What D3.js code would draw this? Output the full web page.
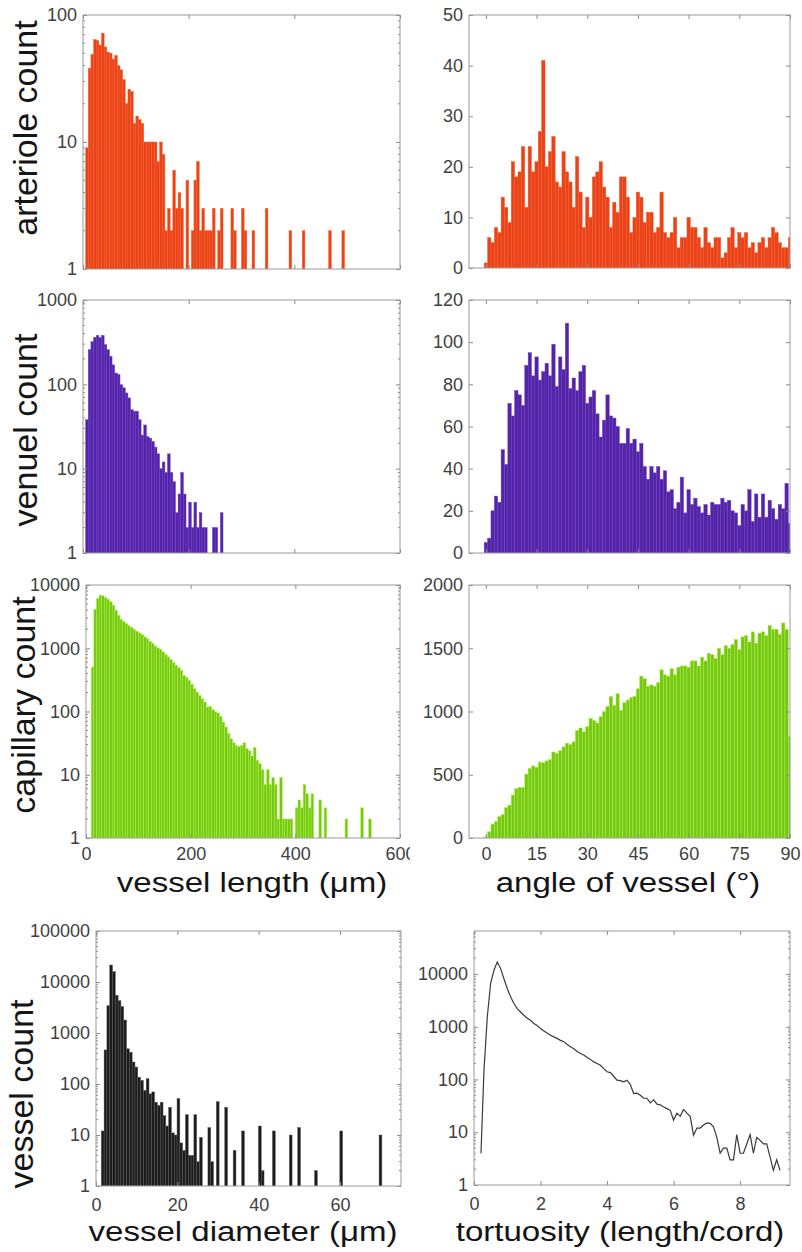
<!DOCTYPE html>
<html><head><meta charset="utf-8">
<script src="https://cdnjs.cloudflare.com/ajax/libs/d3/7.8.5/d3.min.js"></script>
<style>
body{margin:0;background:#fff;}
text{font-family:"Liberation Sans", Arial, Helvetica, sans-serif;}
</style></head><body>
<svg id="chart" width="802" height="1252"></svg>
<script>
// ---------------- DATA ----------------
// vessel length histograms: 5 µm bins starting at 0 µm
const lengthBinWidth = 5;
const arterioleLengthCounts = [0,9,38,49,64,63,58,72,56,51, 50,45,48,40,37,31,20,26,25,14, 16,15,14,10,10,10,10,10,7,10,
  8,2,3,2,6,3,4,3,0,5, 0,2,5,7,2,3,2,2,2,3, 0,2,3,0,0,0,3,2,0,0, 3,2,0,0,2,0,0,0,0,3,
  0,0,0,0,0,0,0,0,2,0, 0,0,0,2,0,0,0,0,0,0, 0,0,0,2,0,0,0,0,2];
const venuelLengthCounts = [0,38,257,320,360,380,360,380,295,257, 215,170,136,131,99,91,79,69,50,48,
  48,38,25,33,24,23,21,18,15,10, 12,9,15,9,7,3,5,9,5,2, 4,2,4,2,3,2,2,0,0,2, 2,0,3];
const capillaryLengthCounts = [0,0,505,4100,6150,6900,6750,6300,5980,5430, 4800,4000,3330,2850,2620,2450,2260,2130,1980,1860,
  1750,1650,1510,1410,1290,1190,1090,1010,955,875, 800,730,665,593,540,494,449,372,343,310,
  270,230,203,180,159,141,118,120,107,100, 95,84,68,57,45,37,32,29,28,29,
  32,26,24,20,27,17,15,12,7,12, 7,9,7,2,9,2,2,2,2,0,
  3,4,3,7,5,3,5,0,0,4, 0,3,0,0,0,0,0,0,0,2, 0,0,0,0,0,3,0,0,2];
// vessel angle histograms: 1° bins centred on 0..90°
const angleBinWidth = 1;
const arterioleAngleCounts = [1,6,5,8,7,14,12,9,21,18, 19,24,12,24,19,21,27,41,20,23, 26,17,16,23,19,17,12,22,15,8,
  14,10,18,19,21,16,14,8,13,11, 18,18,14,7,10,15,14,9,11,11, 7,8,15,7,6,7,10,4,6,6,
  10,8,8,6,4,8,5,4,6,6, 2,3,6,8,4,7,6,7,4,5, 3,5,6,4,6,8,7,5,4,4,6];
const venuelAngleCounts = [5,7,20,27,24,49,42,71,65,77, 75,70,89,95,84,93,82,86,90,84, 99,79,93,87,109,78,83,77,86,89,
  71,74,77,66,55,63,75,65,64,60, 52,52,59,52,54,48,52,41,35,41, 38,41,35,39,29,30,21,24,36,19,
  30,23,26,22,19,23,18,24,23,23, 26,24,25,20,19,13,23,20,30,15, 28,17,28,17,25,21,16,23,21,33,14];
const capillaryAngleCounts = [10,50,110,130,170,185,240,260,340,390, 400,400,505,550,570,560,600,595,610,620,
  680,670,690,720,750,740,760,850,870,840, 880,945,930,910,960,1000,1040,1120,1050,1140,
  1010,1070,1090,1110,1120,1180,1280,1260,1200,1210, 1200,1230,1330,1290,1280,1340,1290,1350,1360,1360,
  1350,1400,1400,1360,1430,1400,1460,1450,1420,1500, 1450,1520,1500,1530,1570,1490,1590,1600,1550,1630,
  1540,1620,1630,1600,1680,1650,1650,1610,1700,1650,800];
// vessel diameter histogram: 100 bins of 0.69 µm from 1.3 µm
const diameterBinStart = 1.3, diameterBinWidth = 0.69;
const diameterCounts = [12,466,3430,21500,16000,5500,4300,3300,1800,490, 420,270,215,136,118,75,127,64,70,44,
  38,44,24,15,35,11,10,52,7,5, 25,4,4,25,3,9,0,0,14,3, 0,45,0,0,35,0,0,5,0,0,
  12,0,0,0,0,0,15,2,0,0, 0,12,0,0,0,0,0,10,0,0, 14,0,0,0,0,0,2,0,0,0,
  0,0,0,0,0,12,0,0,0,0, 0,0,0,0,0,0,0,0,0,10];
// tortuosity distribution (line)
const tortuosityValues = [0.21,0.3,0.4,0.5,0.6,0.7,0.8,0.9,1.0,1.1,1.2,1.3,1.4,1.5,1.6,1.7,1.8,1.9,2.0,2.1,2.2,2.3,2.4,2.5,2.6,2.7,2.8,2.9,
  3.0,3.1,3.2,3.3,3.4,3.5,3.6,3.7,3.8,3.9,4.0,4.1,4.2,4.3,4.4,4.5,4.6,4.7,4.8,4.9,5.0,5.1,5.2,5.3,5.4,5.5,5.6,5.7,5.8,5.9,
  6.0,6.1,6.2,6.3,6.4,6.5,6.6,6.7,6.8,6.9,7.0,7.1,7.2,7.3,7.4,7.5,7.6,7.7,7.8,7.9,8.0,8.1,8.2,8.3,8.4,8.5,8.6,8.7,8.8,8.9,9.0,9.1,9.2];
const tortuosityCounts = [4,150,1540,6600,11700,16900,12600,8100,5300,3670,2750,2200,1900,1650,1450,1320,1150,1050,920,830,760,690,640,600,550,520,460,415,
  380,340,310,290,260,240,215,200,186,160,140,135,115,97,95,90,97,80,54,55,50,44,44,36,41,34,33,30,28,26,
  17,23,20,27,23,20,8.8,12,12,13.7,15,14.7,12.7,8,4,5,5,3,3,9,4,4,6,9,4,8,7,6,6,3.4,1.9,3,1.9];
// tick values
const lengthTicks = [0,200,400,600];
const angleTicks = [0,15,30,45,60,75,90];
const diameterTicks = [0,20,40,60];
const tortuosityTicks = [0,2,4,6,8];
const arterioleCountTicks = [1,10,100];
const venuelCountTicks = [1,10,100,1000];
const capillaryCountTicks = [1,10,100,1000,10000];
const vesselCountTicks = [1,10,100,1000,10000,100000];
const tortCountTicks = [1,10,100,1000,10000];
const arterioleAngleTicks = [0,10,20,30,40,50];
const venuelAngleTicks = [0,20,40,60,80,100,120];
const capillaryAngleTicks = [0,500,1000,1500,2000];

// ---------------- DRAW ----------------
const svg = d3.select("#chart");
const defs = svg.append("defs");
defs.append("clipPath").attr("id","leftcol").append("rect").attr("x",0).attr("y",0).attr("width",410).attr("height",1252);

const cOrange = "#e8431a", cPurple = "#5226a0", cGreen = "#78c51c", cBlack = "#1c1c1c";

const panels = [
  {x0:83,x1:400,y0:15,y1:269,xd:[0,600],log:true,yd:[1,100],yt:arterioleCountTicks,xt:lengthTicks,counts:arterioleLengthCounts,b0:0,bw:lengthBinWidth,color:cOrange,left:true},
  {x0:469,x1:790,y0:15,y1:268,xd:[-5,90],log:false,yd:[0,50],yt:arterioleAngleTicks,xt:angleTicks,counts:arterioleAngleCounts,b0:-0.5,bw:angleBinWidth,color:cOrange},
  {x0:83,x1:400,y0:300,y1:553,xd:[0,600],log:true,yd:[1,1000],yt:venuelCountTicks,xt:lengthTicks,counts:venuelLengthCounts,b0:0,bw:lengthBinWidth,color:cPurple,left:true},
  {x0:469,x1:790,y0:300,y1:553,xd:[-5,90],log:false,yd:[0,120],yt:venuelAngleTicks,xt:angleTicks,counts:venuelAngleCounts,b0:-0.5,bw:angleBinWidth,color:cPurple},
  {x0:86,x1:400,y0:585,y1:838,xd:[0,600],log:true,yd:[1,10000],yt:capillaryCountTicks,xt:lengthTicks,xl:true,xpad:9,counts:capillaryLengthCounts,b0:0,bw:lengthBinWidth,color:cGreen,left:true},
  {x0:469,x1:790,y0:585,y1:838,xd:[-5,90],log:false,yd:[0,2000],yt:capillaryAngleTicks,xt:angleTicks,xl:true,xpad:9,counts:capillaryAngleCounts,b0:-0.5,bw:angleBinWidth,color:cGreen},
  {x0:96,x1:401,y0:931,y1:1186,xd:[0,75],log:true,yd:[1,100000],yt:vesselCountTicks,xt:diameterTicks,xl:true,xpad:12,counts:diameterCounts,b0:diameterBinStart,bw:diameterBinWidth,color:cBlack,edge:"#5a5a5a",left:true},
  {x0:474,x1:790,y0:931,y1:1185,xd:[0,9.5],log:true,yd:[1,65000],yt:tortCountTicks,xt:tortuosityTicks,xl:true,xpad:12,lx:tortuosityValues,ly:tortuosityCounts}
];

const fmt = d3.format("d");
panels.forEach((p,idx)=>{
  const x = d3.scaleLinear().domain(p.xd).range([p.x0,p.x1]);
  const y = (p.log ? d3.scaleLog() : d3.scaleLinear()).domain(p.yd).range([p.y1,p.y0]);
  const root = svg.append("g");
  if(p.left) root.attr("clip-path","url(#leftcol)");
  const cid = "clip"+idx;
  defs.append("clipPath").attr("id",cid).append("rect")
    .attr("x",p.x0).attr("y",p.y0).attr("width",p.x1-p.x0).attr("height",p.y1-p.y0);
  const plot = root.append("g").attr("clip-path",`url(#${cid})`);
  if(p.counts){
    const base = p.log ? p.yd[0] : 0;
    const edge = p.edge || d3.color(p.color).brighter(0.9).formatHex();
    plot.selectAll("rect").data(p.counts.map((c,i)=>({c,i})).filter(d=>d.c>0)).join("rect")
      .attr("x", d=>x(p.b0 + d.i*p.bw))
      .attr("width", d=>x(p.b0+(d.i+1)*p.bw)-x(p.b0+d.i*p.bw))
      .attr("y", d=>y(d.c))
      .attr("height", d=>Math.max(0,y(base)-y(d.c)))
      .attr("fill",p.color).attr("stroke",edge).attr("stroke-width",0.45);
  }
  if(p.lx){
    plot.append("path").datum(p.lx.map((v,i)=>[v,p.ly[i]]))
      .attr("d", d3.line().x(d=>x(d[0])).y(d=>y(d[1])))
      .attr("fill","none").attr("stroke","#3a3a3a").attr("stroke-width",1.2);
  }
  // axes
  const axL = root.append("g").attr("transform",`translate(${p.x0},0)`)
    .call(d3.axisLeft(y).tickValues(p.yt).tickFormat(fmt).tickSize(-4).tickSizeOuter(0).tickPadding(6));
  const axR = root.append("g").attr("transform",`translate(${p.x1},0)`)
    .call(d3.axisRight(y).tickValues(p.yt).tickFormat("").tickSize(-4).tickSizeOuter(0));
  const axB = root.append("g").attr("transform",`translate(0,${p.y1})`)
    .call(d3.axisBottom(x).tickValues(p.xt).tickFormat(p.xl ? fmt : "").tickSize(-4).tickSizeOuter(0).tickPadding(p.xpad||8));
  const axT = root.append("g").attr("transform",`translate(0,${p.y0})`)
    .call(d3.axisTop(x).tickValues(p.xt).tickFormat("").tickSize(-4).tickSizeOuter(0));
  [axL,axR,axB,axT].forEach(a=>{
    a.selectAll(".domain").remove();
    a.selectAll(".tick line").attr("stroke","#8a8a8a");
    a.selectAll(".tick text").attr("fill","#404040").style("font-size","18px");
  });
  // minor ticks on log axes
  if(p.log){
    const minors = [];
    for(let d=p.yd[0]; d<p.yd[1]; d*=10){
      for(let m=2;m<=9;m++){ const v=m*d; if(v<p.yd[1]) minors.push(v); }
    }
    root.append("g").selectAll("line").data(minors).join("line")
      .attr("x1",p.x0).attr("x2",p.x0+2).attr("y1",d=>y(d)).attr("y2",d=>y(d)).attr("stroke","#8a8a8a");
    root.append("g").selectAll("line").data(minors).join("line")
      .attr("x1",p.x1-2).attr("x2",p.x1).attr("y1",d=>y(d)).attr("y2",d=>y(d)).attr("stroke","#8a8a8a");
  }
  root.append("rect").attr("x",p.x0).attr("y",p.y0).attr("width",p.x1-p.x0).attr("height",p.y1-p.y0)
    .attr("fill","none").attr("stroke","#9a9a9a").attr("stroke-width",1);
});

// axis titles
const yTitles = [["arteriole count",37,128],["venuel count",37,430],["capillary count",35,705],["vessel count",33,1094]];
yTitles.forEach(([t,bx,cy])=>{
  svg.append("text").attr("transform",`translate(${bx},${cy}) rotate(-90)`)
    .attr("text-anchor","middle").attr("fill","#151515").style("font-size","34px").text(t);
});
const xTitles = [["vessel length (μm)",252,892],["angle of vessel (°)",628,892],["vessel diameter (μm)",243,1241],["tortuosity (length/cord)",620,1241]];
xTitles.forEach(([t,cx,by])=>{
  svg.append("text").attr("transform",`translate(${cx},${by}) scale(1.18,1)`)
    .attr("text-anchor","middle").attr("fill","#151515").style("font-size","28px").text(t);
});
</script></body></html>
